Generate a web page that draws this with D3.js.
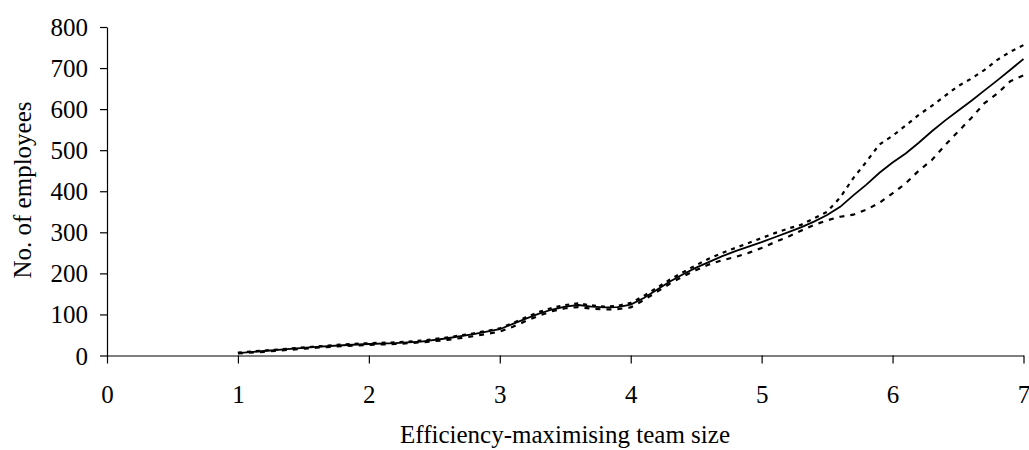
<!DOCTYPE html>
<html>
<head>
<meta charset="utf-8">
<script src="https://cdn.jsdelivr.net/npm/d3@7"></script>
<style>
  html, body { margin: 0; padding: 0; background: #fff; }
  svg { display: block; }
  text { font-family: "Liberation Serif", "Times New Roman", serif; fill: #000; }
</style>
</head>
<body>
<svg id="chart" width="1029" height="450"></svg>
<script>
const teamSize = [1.0,1.2,1.4,1.6,1.8,2.0,2.2,2.4,2.6,2.8,
  3.0,3.1,3.2,3.3,3.4,3.5,3.6,3.7,3.8,3.9,
  4.0,4.1,4.2,4.3,4.4,4.5,4.6,4.7,4.8,4.9,
  5.0,5.1,5.2,5.3,5.4,5.5,5.6,5.7,5.8,5.9,
  6.0,6.1,6.2,6.3,6.4,6.5,6.6,6.7,6.8,6.9,7.0];

const employees = [6,11,16,21,25,28,30,34,42,52,
  64,77,90,102,112,119,123,119,117,118,
  124,140,160,180,198,214,228,242,254,265,
  276,288,300,312,326,342,362,390,416,445,
  470,492,518,546,572,596,620,645,670,696,722];

const upperBound = [7,12,17,22,27,30,32,36,44,54,
  66,79,93,106,116,123,127,122,119,121,
  128,145,165,185,203,220,236,250,262,274,
  286,298,309,318,334,350,385,432,472,514,
  535,560,586,608,632,656,674,695,720,740,756];

const lowerBound = [5,9,14,19,23,26,28,32,38,47,
  58,70,84,97,108,115,118,114,112,113,
  117,135,155,175,193,208,222,232,240,250,
  262,276,289,304,318,329,338,343,355,372,
  395,419,450,476,512,545,578,614,638,668,682];

const xTicks = [0,1,2,3,4,5,6,7];
const yTicks = [0,100,200,300,400,500,600,700,800];
const xTitle = "Efficiency-maximising team size";
const yTitle = "No. of employees";

const svg = d3.select("#chart");
const x = d3.scaleLinear().domain([0, 7]).range([107, 1023.5]);
const y = d3.scaleLinear().domain([0, 800]).range([355.5, 27]);

// Y axis
const yAxis = svg.append("g")
  .attr("transform", `translate(${x(0)},0)`)
  .call(d3.axisLeft(y).tickValues(yTicks).tickSize(7).tickSizeOuter(0).tickPadding(12));
yAxis.selectAll("text").style("font-size", "25px").attr("dy", "0.34em");

// X axis
const xAxis = svg.append("g")
  .attr("transform", `translate(0,${y(0)})`)
  .call(d3.axisBottom(x).tickValues(xTicks).tickSize(8).tickSizeOuter(0).tickPadding(22).tickFormat(d3.format("d")));
xAxis.selectAll("text").style("font-size", "25px").attr("dy", "0.71em");

svg.selectAll(".domain, .tick line").attr("stroke", "#000").attr("stroke-width", 1.2);

// Lines
function series(vals) {
  return teamSize.map((t, i) => [t, vals[i]]);
}
const line = d3.line().x(d => x(d[0])).y(d => y(d[1]));

svg.append("path").datum(series(upperBound))
  .attr("fill", "none").attr("stroke", "#000").attr("stroke-width", 2.2)
  .attr("stroke-dasharray", "4,5").attr("d", line);
svg.append("path").datum(series(lowerBound))
  .attr("fill", "none").attr("stroke", "#000").attr("stroke-width", 2.2)
  .attr("stroke-dasharray", "5,6").attr("d", line);
svg.append("path").datum(series(employees))
  .attr("fill", "none").attr("stroke", "#000").attr("stroke-width", 1.8)
  .attr("d", line);

// Titles
svg.append("text")
  .attr("x", 565).attr("y", 443)
  .attr("text-anchor", "middle")
  .style("font-size", "25px")
  .text(xTitle);

svg.append("text")
  .attr("transform", "translate(31,190) rotate(-90)")
  .attr("text-anchor", "middle")
  .style("font-size", "25px")
  .text(yTitle);
</script>
</body>
</html>
